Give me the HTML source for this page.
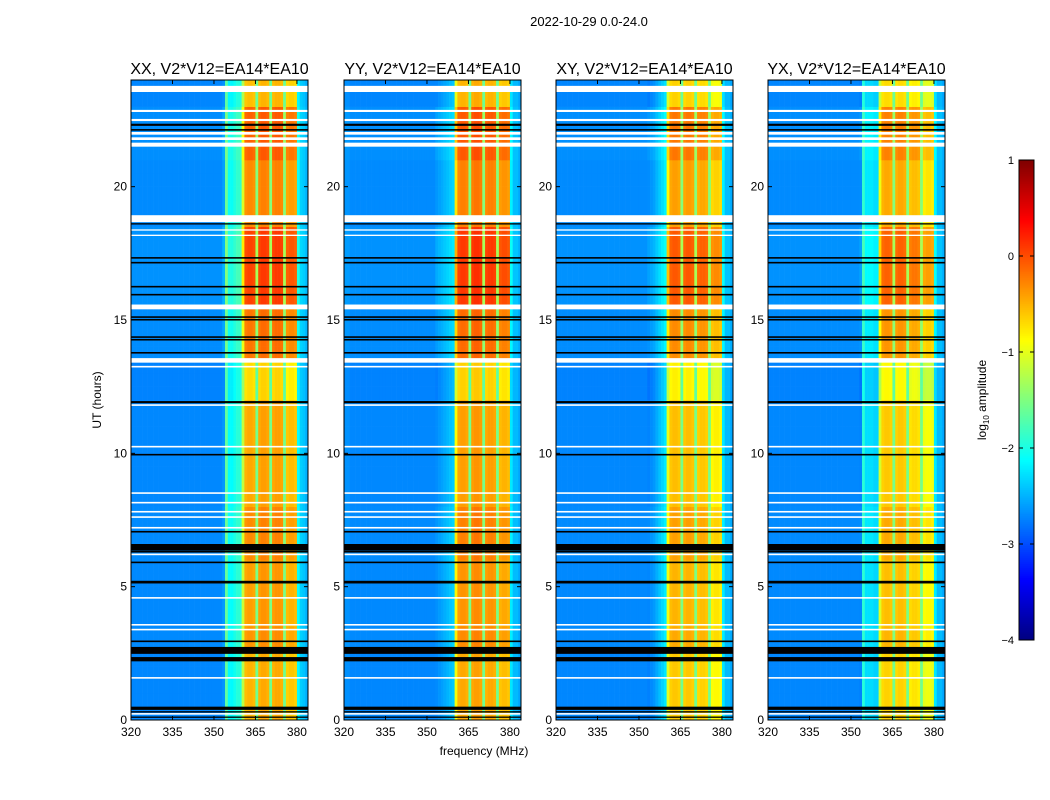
<!DOCTYPE html>
<html><head><meta charset="utf-8"><style>
html,body{margin:0;padding:0;background:#fff;}
svg{display:block;font-family:"Liberation Sans","DejaVu Sans",sans-serif;}
</style></head><body>
<svg id="fig" width="1050" height="800" viewBox="0 0 1050 800">
<rect x="0" y="0" width="1050" height="800" fill="#fff"/>
<text x="589" y="26" font-size="13" text-anchor="middle">2022-10-29 0.0-24.0</text>
<text x="484" y="755" font-size="12" text-anchor="middle">frequency (MHz)</text>
<text x="0" y="0" font-size="12" text-anchor="middle" transform="translate(101,400) rotate(-90)">UT (hours)</text>
<g id="panels"></g>
<g id="cbar"></g>
</svg>
<script>
// ---- data ----
const panelTitles = ["XX, V2*V12=EA14*EA10","YY, V2*V12=EA14*EA10","XY, V2*V12=EA14*EA10","YX, V2*V12=EA14*EA10"];
// frequency channel starts (MHz), 1 MHz channels 320..383
const freqStart = 320, freqStep = 1, nChan = 64;
// log10 amplitude per channel at nominal time, per panel
const specXX = [-2.7,-2.7,-2.7,-2.7,-2.7,-2.7,-2.7,-2.7,-2.7,-2.7,-2.7,-2.7,-2.7,-2.7,-2.7,-2.7,-2.7,-2.7,-2.7,-2.7,-2.7,-2.7,-2.7,-2.7,-2.7,-2.7,-2.7,-2.7,-2.7,-2.7,-2.7,-2.7,-2.7,-2.6,-1.6,-2.1,-2.1,-2.0,-1.9,-1.9,-1.1,-0.4,-0.35,-0.35,-0.4,-1.5,-0.35,-0.3,-0.3,-0.35,-1.5,-0.35,-0.3,-0.3,-0.35,-1.5,-0.5,-0.45,-0.45,-0.5,-2.1,-2.35,-2.4,-2.5];
const specYY = [-2.65,-2.65,-2.7,-2.7,-2.7,-2.7,-2.7,-2.7,-2.7,-2.7,-2.7,-2.7,-2.7,-2.7,-2.7,-2.7,-2.7,-2.7,-2.7,-2.7,-2.7,-2.7,-2.7,-2.7,-2.7,-2.7,-2.7,-2.7,-2.7,-2.7,-2.7,-2.7,-2.7,-2.65,-2.6,-2.55,-2.5,-2.45,-2.4,-2.35,-0.8,-0.35,-0.3,-0.3,-0.35,-1.5,-0.3,-0.25,-0.25,-0.3,-1.5,-0.35,-0.3,-0.3,-0.35,-1.5,-0.45,-0.4,-0.4,-0.45,-2.2,-2.45,-2.45,-2.55];
const specXY = [-2.7,-2.7,-2.7,-2.7,-2.7,-2.7,-2.7,-2.7,-2.7,-2.7,-2.7,-2.7,-2.7,-2.7,-2.7,-2.7,-2.7,-2.7,-2.7,-2.7,-2.7,-2.7,-2.7,-2.7,-2.7,-2.7,-2.7,-2.7,-2.7,-2.7,-2.7,-2.7,-2.7,-2.7,-2.65,-2.6,-2.5,-2.4,-2.3,-2.2,-0.9,-0.5,-0.45,-0.45,-0.5,-1.5,-0.5,-0.45,-0.45,-0.5,-1.5,-0.55,-0.5,-0.5,-0.55,-1.5,-0.75,-0.7,-0.7,-0.75,-2.2,-2.45,-2.45,-2.55];
const specYX = [-2.7,-2.7,-2.7,-2.7,-2.7,-2.7,-2.7,-2.7,-2.7,-2.7,-2.7,-2.7,-2.7,-2.7,-2.7,-2.7,-2.7,-2.7,-2.7,-2.7,-2.7,-2.7,-2.7,-2.7,-2.7,-2.7,-2.7,-2.7,-2.7,-2.7,-2.7,-2.7,-2.7,-2.7,-1.9,-2.25,-2.25,-2.25,-2.3,-2.3,-1.0,-0.55,-0.5,-0.5,-0.55,-1.5,-0.55,-0.5,-0.5,-0.55,-1.5,-0.65,-0.6,-0.6,-0.65,-1.5,-0.85,-0.8,-0.8,-0.85,-2.2,-2.45,-2.45,-2.55];
// how strongly each channel follows the time variation
const chanGain = [0.1,0.1,0.1,0.1,0.1,0.1,0.1,0.1,0.1,0.1,0.1,0.1,0.1,0.1,0.1,0.1,0.1,0.1,0.1,0.1,0.1,0.1,0.1,0.1,0.1,0.1,0.1,0.1,0.1,0.1,0.1,0.1,0.1,0.3,0.3,0.3,0.3,0.3,0.3,0.3,0.8,1,1,1,1,0.5,1,1,1,1,0.5,1,1,1,1,0.5,1,1,1,1,0.3,0.1,0.1,0.1];
// time rows, 0.5 h each from 0 to 24 UT
const timeStart = 0, timeStep = 0.5;
const timeOffset = [-0.15,-0.15,-0.15,-0.15,-0.15,0,0,-0.05,-0.05,-0.05,-0.05,-0.05,0.05,0.05,0.05,0.05,-0.1,-0.1,-0.1,-0.1,-0.1,-0.1,-0.1,-0.1,-0.35,-0.35,-0.35,0.15,0.15,0.15,0.15,0.4,0.4,0.4,0.4,0.4,0.4,0.05,0.05,0.05,0.05,0.05,0.25,0.25,0.25,0.25,-0.2,-0.2];
// flagged time ranges (hours) shown as white (no data) or black
const flagStart = [23.55,22.8,22.46,22.28,22.1,21.95,21.75,21.5,18.67,18.58,18.35,18.15,17.3,17.12,16.22,15.92,15.4,15.08,14.98,14.33,14.23,13.74,13.4,13.22,11.88,11.78,10.22,9.92,8.48,8.12,7.78,7.58,7.18,7.03,6.35,6.28,6.18,5.88,5.12,4.55,3.54,3.36,2.92,2.48,2.2,1.55,0.38,0.28,0.2,0.08];
const flagEnd   = [23.78,22.88,22.54,22.36,22.16,22.05,21.85,21.65,18.93,18.63,18.4,18.2,17.36,17.18,16.28,15.98,15.58,15.14,15.04,14.39,14.29,13.8,13.57,13.28,11.96,11.84,10.28,9.98,8.54,8.18,7.84,7.64,7.24,7.09,6.6,6.34,6.24,5.94,5.22,4.61,3.6,3.42,2.98,2.74,2.36,1.61,0.5,0.33,0.26,0.13];
const flagColor = ["w","w","w","b","b","w","w","w","w","b","w","w","b","b","b","b","w","b","b","b","b","b","w","w","b","w","w","b","w","w","w","w","w","b","b","b","w","b","b","w","w","w","b","b","b","w","b","b","w","b"];
const xTicks = [320,335,350,365,380];
const yTicks = [0,5,10,15,20];
const cbarTicks = [1,0,-1,-2,-3,-4];
const vmin = -4, vmax = 1;

// ---- layout ----
const NS = "http://www.w3.org/2000/svg";
const panelX = [131,344,556,768], panelW = 177, panelTop = 80, panelBot = 720;
const fMin = 320, fMax = 384, tMin = 0, tMax = 24;
function xScale(p,f){ return panelX[p] + (f - fMin) / (fMax - fMin) * panelW; }
function yScale(t){ return panelBot - (t - tMin) / (tMax - tMin) * (panelBot - panelTop); }
function jet(v){
  let x = (v - vmin) / (vmax - vmin); x = Math.max(0, Math.min(1, x));
  const f = (a) => Math.max(0, Math.min(1, a));
  const r = f(1.5 - Math.abs(4*x - 3)), g = f(1.5 - Math.abs(4*x - 2)), b = f(1.5 - Math.abs(4*x - 1));
  return "rgb(" + Math.round(r*255) + "," + Math.round(g*255) + "," + Math.round(b*255) + ")";
}
function mk(tag, attrs, parent){
  const e = document.createElementNS(NS, tag);
  for (const k in attrs) e.setAttribute(k, attrs[k]);
  parent.appendChild(e); return e;
}
const specs = [specXX, specYY, specXY, specYX];
const panelsG = document.getElementById("panels");
for (let p = 0; p < 4; p++){
  const g = mk("g", {}, panelsG);
  
  
  const title = mk("text", {x: panelX[p] + panelW/2, y: 74, "font-size": 16, "text-anchor": "middle"}, g);
  title.textContent = panelTitles[p];
  
  
  for (let t = 0; t < timeOffset.length; t++){
    const t0 = timeStart + t*timeStep, t1 = t0 + timeStep;
    const y0 = yScale(t1), y1 = yScale(t0);
    for (let c = 0; c < specs[p].length; c++){
      const f0 = freqStart + c*freqStep;
      const v = specs[p][c] + chanGain[c]*timeOffset[t];
      const x0 = xScale(p, f0), x1 = xScale(p, f0 + freqStep);
      const r = mk("rect", {x: x0.toFixed(2), y: y0.toFixed(2), width: (x1-x0+0.3).toFixed(2), height: (y1-y0+0.3).toFixed(2), fill: jet(v)}, g);
      
      
    }
  }
  for (let i = 0; i < flagStart.length; i++){
    const y0 = yScale(flagEnd[i]), y1 = yScale(flagStart[i]);
    const r = mk("rect", {x: panelX[p], y: y0.toFixed(2), width: panelW, height: Math.max(1.2, y1-y0).toFixed(2), fill: flagColor[i] === "w" ? "#fff" : "#000"}, g);
    
    
  }
  const frame = mk("rect", {x: panelX[p], y: panelTop, width: panelW, height: panelBot-panelTop, fill: "none", stroke: "#000", "stroke-width": 1}, g);
  
  
  for (const xt of xTicks){
    const x = xScale(p, xt);
    mk("line", {x1: x, y1: panelBot, x2: x, y2: panelBot-4, stroke: "#000"}, g);
    mk("line", {x1: x, y1: panelTop, x2: x, y2: panelTop+4, stroke: "#000"}, g);
    const tx = mk("text", {x: x, y: panelBot + 16, "font-size": 12, "text-anchor": "middle"}, g);
    tx.textContent = xt;
    
    
  }
  for (const yt of yTicks){
    const y = yScale(yt);
    mk("line", {x1: panelX[p], y1: y, x2: panelX[p]+4, y2: y, stroke: "#000"}, g);
    mk("line", {x1: panelX[p]+panelW, y1: y, x2: panelX[p]+panelW-4, y2: y, stroke: "#000"}, g);
    const ty = mk("text", {x: panelX[p] - 4, y: y + 4, "font-size": 12, "text-anchor": "end"}, g);
    ty.textContent = yt;
    
    
  }
}
// colorbar
const cb = document.getElementById("cbar");
const cbX = 1019, cbW = 15, cbTop = 160, cbBot = 640;
for (let i = 0; i < 240; i++){
  const v = vmin + (i + 0.5) / 240 * (vmax - vmin);
  const y = cbBot - (i+1) * (cbBot-cbTop)/240;
  const r = mk("rect", {x: cbX, y: y.toFixed(2), width: cbW, height: ((cbBot-cbTop)/240 + 0.3).toFixed(2), fill: jet(v)}, cb);
  
  
}
mk("rect", {x: cbX, y: cbTop, width: cbW, height: cbBot-cbTop, fill: "none", stroke: "#000"}, cb);
for (const v of cbarTicks){
  const y = cbBot - (v - vmin)/(vmax - vmin)*(cbBot-cbTop);
  mk("line", {x1: cbX, y1: y, x2: cbX+4, y2: y, stroke: "#000"}, cb);
  mk("line", {x1: cbX+cbW, y1: y, x2: cbX+cbW-4, y2: y, stroke: "#000"}, cb);
  const t = mk("text", {x: cbX - 5, y: y + 4, "font-size": 11, "text-anchor": "end"}, cb);
  t.textContent = v < 0 ? "\u2212" + Math.abs(v) : String(v);
  
  
}
const cl = mk("text", {transform: "translate(986,400) rotate(-90)", "font-size": 12, "text-anchor": "middle"}, cb);
cl.innerHTML = 'log<tspan font-size="8" dy="3">10</tspan><tspan dy="-3"> amplitude</tspan>';


</script>
</body></html>
